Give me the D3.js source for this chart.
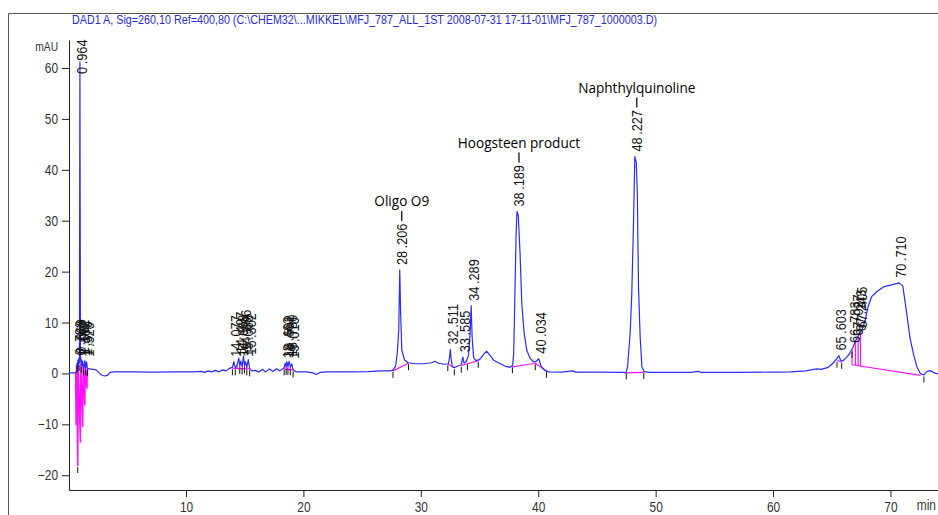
<!DOCTYPE html>
<html><head><meta charset="utf-8">
<script src="https://cdn.jsdelivr.net/npm/d3@7"></script>
<style>body{margin:0;background:#fff;} svg{display:block}</style>
</head><body>
<svg id="c" width="938" height="515"></svg>
<script>
const titleText = "DAD1 A, Sig=260,10 Ref=400,80 (C:\\CHEM32\\...MIKKEL\\MFJ_787_ALL_1ST 2008-07-31 17-11-01\\MFJ_787_1000003.D)";
const yUnit = "mAU";
const xUnit = "min";
const xTicks = [10, 20, 30, 40, 50, 60, 70];
const yTicks = [-20, -10, 0, 10, 20, 30, 40, 50, 60];

// chromatogram trace (time in min, absorbance in mAU)
const traceTime = [0.03,0.62,0.68,0.72,0.76,0.788,0.83,0.869,0.92,0.964,1.01,1.062,1.12,1.187,1.26,1.30,1.376,1.45,1.526,1.60,1.80,2.10,2.35,2.55,2.80,3.05,3.30,3.55,3.85,5.5,7.0,9.0,10.5,11.3,11.6,11.9,12.2,12.5,12.8,13.1,13.4,13.7,13.95,14.077,14.2,14.35,14.497,14.58,14.668,14.78,14.896,14.98,15.069,15.18,15.302,15.42,15.6,15.9,16.2,16.5,16.8,17.1,17.4,17.7,18.0,18.25,18.36,18.463,18.53,18.592,18.68,18.78,18.88,19.01,19.12,19.4,20.3,20.8,21.1,21.4,22.0,24.0,25.5,26.5,27.3,27.6,27.85,28.0,28.12,28.206,28.28,28.38,28.6,28.9,29.5,30.3,30.9,31.2,31.5,32.0,32.35,32.45,32.511,32.57,32.68,32.85,33.1,33.45,33.52,33.585,33.68,33.85,34.05,34.18,34.289,34.37,34.5,34.7,35.0,35.3,35.6,35.85,36.2,36.7,37.2,37.6,37.82,37.91,38.0,38.11,38.189,38.30,38.45,38.60,38.80,39.02,39.30,39.60,39.80,40.034,40.25,40.55,40.9,42.0,42.9,43.2,45.0,47.3,47.46,47.61,47.83,47.97,48.12,48.227,48.35,48.44,48.54,48.68,48.83,49.02,49.5,53.0,53.6,53.9,57.0,60.0,61.5,62.8,63.7,64.1,64.7,65.1,65.4,65.603,65.75,65.9,66.25,66.55,66.783,67.027,67.243,67.405,67.6,67.85,68.1,68.4,68.85,69.4,70.1,70.71,71.05,71.35,71.65,71.95,72.25,72.55,72.85,73.1,73.4,73.8,74.05];
const traceMAU = [0.1,0.1,0.6,2.0,1.4,2.6,1.6,2.9,2.0,61.2,2.3,2.8,1.5,2.4,1.2,1.0,2.5,1.1,2.3,1.0,0.9,0.8,0.7,0.2,-0.3,-0.5,-0.4,0.2,0.3,0.3,0.25,0.3,0.3,0.4,0.2,0.5,0.3,0.6,0.3,0.7,0.5,1.0,1.2,2.3,1.1,1.6,3.0,1.5,2.4,1.4,3.4,1.6,2.3,1.2,2.7,1.0,0.5,0.6,0.3,0.8,0.3,0.9,0.4,0.9,0.5,0.9,1.2,2.0,1.3,2.3,1.4,2.4,1.2,1.9,0.7,0.3,0.3,0.1,-0.2,0.2,0.3,0.3,0.35,0.5,0.5,0.6,1.4,4.2,8.5,20.3,11.9,4.6,2.7,2.1,1.9,1.9,2.1,2.4,2.0,1.8,1.9,3.2,4.7,3.0,1.3,1.1,1.4,1.7,2.6,3.2,2.0,2.3,3.4,7.2,13.3,7.1,3.1,2.5,2.7,3.6,4.4,3.7,2.6,2.0,1.4,1.2,1.6,4.0,13.8,26.9,31.8,31.1,23.7,13.8,7.9,4.6,3.0,2.3,2.3,2.9,1.4,0.6,0.3,0.25,0.5,0.25,0.25,0.2,0.1,1.3,7.9,15.8,30.2,42.6,41.5,35.4,17.1,7.2,1.3,0.35,0.2,0.2,0.4,0.2,0.2,0.25,0.3,0.5,0.9,0.8,1.2,2.0,2.8,3.5,2.6,2.4,3.1,4.0,5.0,6.4,7.3,7.9,8.7,10.5,13.1,15.1,16.1,17.0,17.4,17.8,17.2,12.4,7.2,3.9,1.3,0.0,-0.3,0.35,0.55,0.05,-0.1];

// integrated peaks (retention times)
const peakTimes = [0.788,0.869,0.964,1.062,1.187,1.376,1.526,14.077,14.497,14.668,14.896,15.069,15.302,18.463,18.592,18.780,19.010,28.206,32.511,33.585,34.289,38.189,40.034,48.227,65.603,66.783,67.027,67.243,67.405,70.710];

// named compounds
const compoundNames = ["Oligo O9", "Hoogsteen product", "Naphthylquinoline"];
const compoundTimes = [28.206, 38.189, 48.227];

// integration baselines [t1, v1, t2, v2]
const baselineSegs = [[13.95,1.0,15.42,0.9],[18.36,0.9,19.12,0.7],[27.63,0.5,28.95,2.0],[32.30,1.8,32.85,1.2],[33.45,1.5,33.97,1.9],[33.97,1.9,34.89,2.5],[37.80,1.3,39.75,2.0],[39.75,2.0,40.71,0.5],[47.50,0.1,48.99,0.2],[65.48,2.6,65.80,2.2],[66.73,1.7,72.57,-0.4]];
// early negative baselines (zigzag)
const earlyBaseTime = [0.60,0.64,0.68,0.78,0.82,1.00,1.04,1.20,1.24,1.38,1.42,1.56,1.60];
const earlyBaseMAU = [0.2,-10.2,1.8,-18.2,2.0,-13.6,2.0,-10.5,1.6,-6.3,1.3,-3.0,1.0];
// drop lines [t, vBottom, vTop]
const dropLines = [[14.35,1.0,1.6],[14.58,0.95,1.5],[14.78,0.95,1.4],[14.98,0.9,1.6],[15.18,0.9,1.2],[18.53,0.85,1.3],[18.68,0.8,1.4],[18.88,0.75,1.2],[66.73,1.7,4.6],[67.02,1.6,6.3],[67.25,1.4,7.2],[67.45,1.3,7.9]];
// peak start/end markers [t, v]
const markers = [[0.78,-18.2],[0.74,1.6],[0.90,1.9],[1.10,1.5],[1.28,1.0],[1.46,1.0],[1.62,0.9],[13.95,1.0],[14.2,1.0],[14.58,1.3],[14.78,1.2],[14.98,1.4],[15.18,1.0],[15.42,0.8],[18.36,1.0],[18.53,1.1],[18.68,1.1],[18.88,1.0],[19.12,0.6],[27.63,0.5],[28.95,2.0],[32.30,1.8],[32.85,1.0],[33.45,1.5],[33.97,2.0],[34.89,2.5],[37.80,1.4],[39.75,2.0],[40.71,0.5],[47.5,0.2],[48.99,0.3],[65.45,2.5],[65.85,2.3],[66.73,4.4],[72.85,-0.4]];

const svg = d3.select("#c");
const x = d3.scaleLinear().domain([0.034, 74.05]).range([69, 938]);
const y = d3.scaleLinear().domain([-22.9, 65.5]).range([490, 40]);
const FONT = "'Liberation Sans', Arial, sans-serif";

// frame
svg.append("path").attr("d", "M8.5,515 V13.5 H938").attr("fill", "none").attr("stroke", "#555").attr("stroke-width", 1);

// title
svg.append("text").attr("x", 72).attr("y", 24).attr("font-family", FONT).attr("font-size", 12)
  .attr("fill", "#2a2ad8").attr("textLength", 585).attr("lengthAdjust", "spacingAndGlyphs").text(titleText);

function condense(sel, sx) {
  sel.each(function() {
    const t = d3.select(this);
    const tx = +t.attr("x") || 0;
    t.attr("transform", `translate(${tx},0) scale(${sx},1) translate(${-tx},0)`);
  });
}

// axes
const minorY = d3.range(-22, 65, 2).filter(v => v % 10 !== 0);
const minorX = d3.range(2, 75, 2).filter(v => v % 10 !== 0);
const gy = svg.append("g").attr("transform", "translate(69,0)");
gy.call(d3.axisLeft(y).tickValues(minorY).tickSize(4).tickSizeOuter(0).tickFormat(""));
gy.call(d3.axisLeft(y).tickValues(yTicks).tickSize(7).tickSizeOuter(0).tickPadding(4));
const gx = svg.append("g").attr("transform", "translate(0,490)");
gx.call(d3.axisBottom(x).tickValues(minorX).tickSize(4).tickSizeOuter(0).tickFormat(""));
gx.call(d3.axisBottom(x).tickValues(xTicks).tickSize(7).tickSizeOuter(0).tickPadding(5));
[gx, gy].forEach(g => {
  g.selectAll("path,line").attr("stroke", "#222");
  g.selectAll("text").attr("font-family", FONT).attr("font-size", 14).attr("fill", "#333");
});
condense(gy.selectAll("text"), 0.85);
gx.selectAll("text").attr("transform", "scale(0.85,1)");
svg.append("text").attr("transform", "translate(58,51) scale(0.85,1)")
  .attr("text-anchor", "end").attr("font-family", FONT).attr("font-size", 12).attr("fill", "#333").text(yUnit);
svg.append("text").attr("transform", "translate(936,510) scale(0.85,1)").attr("text-anchor", "end")
  .attr("font-family", FONT).attr("font-size", 14).attr("fill", "#333").text(xUnit);

// integration baselines (magenta)
const MAG = "#ff10ff";
svg.append("g").selectAll("line").data(baselineSegs).join("line")
  .attr("x1", d => x(d[0])).attr("y1", d => y(d[1])).attr("x2", d => x(d[2])).attr("y2", d => y(d[3]))
  .attr("stroke", MAG).attr("stroke-width", 1.2);
svg.append("path").datum(d3.zip(earlyBaseTime, earlyBaseMAU))
  .attr("d", d3.line().x(d => x(d[0])).y(d => y(d[1])))
  .attr("fill", "none").attr("stroke", MAG).attr("stroke-width", 1.5);
svg.append("g").selectAll("line").data(dropLines).join("line")
  .attr("x1", d => x(d[0])).attr("x2", d => x(d[0])).attr("y1", d => y(d[1])).attr("y2", d => y(d[2]))
  .attr("stroke", MAG).attr("stroke-width", 1.2);

// trace
const trace = d3.zip(traceTime, traceMAU);
svg.append("path").datum(trace)
  .attr("d", d3.line().x(d => x(d[0])).y(d => y(d[1])))
  .attr("fill", "none").attr("stroke", "#2b2bff").attr("stroke-width", 1.2).attr("stroke-linejoin", "round");

// markers
svg.append("g").selectAll("line").data(markers).join("line")
  .attr("x1", d => x(d[0])).attr("x2", d => x(d[0])).attr("y1", d => y(d[1]) + 1).attr("y2", d => y(d[1]) + 7)
  .attr("stroke", "#111").attr("stroke-width", 1);

// value at time
const bis = d3.bisector(d => d).left;
function valueAt(t) {
  const i = bis(traceTime, t);
  if (i <= 0) return traceMAU[0];
  if (i >= traceTime.length) return traceMAU[traceMAU.length - 1];
  const t0 = traceTime[i - 1], t1 = traceTime[i];
  const f = (t - t0) / (t1 - t0);
  return traceMAU[i - 1] + f * (traceMAU[i] - traceMAU[i - 1]);
}

// peak labels
const SX = 0.85;
const labelTop = {};
peakTimes.forEach(t => {
  const px = x(t), py = y(valueAt(t));
  const s = t.toFixed(3);
  const [ip, dp] = s.split(".");
  const g = svg.append("g");
  const txt = g.append("text").attr("font-family", FONT).attr("font-size", 15).attr("fill", "#111");
  txt.append("tspan").text(ip);
  txt.append("tspan").attr("dx", 3).text("." + dp);
  const len = txt.node().getComputedTextLength() * SX;
  let yb = py - 5;
  if (yb - len < 42) yb = 42 + len;
  g.attr("transform", `translate(${px + 7.5},${yb}) rotate(-90) scale(${SX},1)`);
  labelTop[s] = yb - len;
});

// compound annotations
compoundTimes.forEach((t, i) => {
  const top = labelTop[t.toFixed(3)];
  const cx = x(t) + 2;
  svg.append("line").attr("x1", cx).attr("x2", cx).attr("y1", top - 5).attr("y2", top - 15)
    .attr("stroke", "#111").attr("stroke-width", 1.3);
  svg.append("text").attr("x", cx).attr("y", top - 20).attr("text-anchor", "middle")
    .attr("font-family", "'Open Sans', sans-serif").attr("font-size", 13.6).attr("fill", "#000")
    .text(compoundNames[i]);
});
</script>
</body></html>
